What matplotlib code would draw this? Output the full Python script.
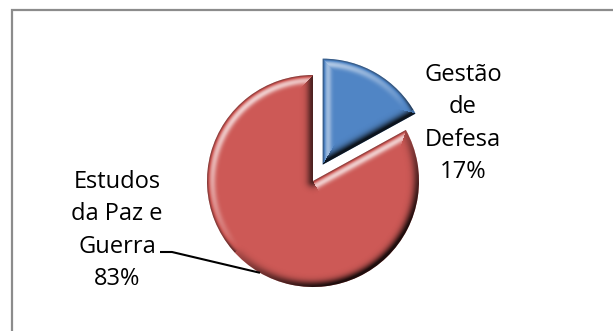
import numpy as np
import matplotlib
matplotlib.use("Agg")
import matplotlib.pyplot as plt

# pie data
categories = ["Gestão\nde\nDefesa", "Estudos\nda Paz e\nGuerra"]
shares = [17, 83]
colors = ["#5085C5", "#CD5956"]

W, H = 613, 331
plt.rcParams['font.family'] = ['Open Sans', 'DejaVu Sans']

fig = plt.figure(figsize=(W / 100, H / 100), dpi=100)
ax = fig.add_axes([0, 0, 1, 1])

center = (313, 150)
radius = 106
# explode is in data units here (1 unit = 1 px)
wedges, _ = ax.pie(shares, colors=colors, startangle=90, counterclock=False,
                   explode=[19, 0], center=center, radius=radius)
ax.set_xlim(0, W)
ax.set_ylim(0, H)
ax.set_aspect('equal')
ax.axis('off')

# pixel grid in data units
xs = np.arange(W) + 0.5
ys = H - (np.arange(H) + 0.5)
X, Y = np.meshgrid(xs, ys)
light = np.array([-0.6, 0.8])


def seg_dist(vx, vy, ux, uy, R):
    proj = np.clip(vx * ux + vy * uy, 0, R)
    return np.hypot(vx - proj * ux, vy - proj * uy)


def bevel(w):
    cx, cy = w.center
    R = w.r
    t1, t2 = np.radians(w.theta1), np.radians(w.theta2)
    vx, vy = X - cx, Y - cy
    rho = np.hypot(vx, vy) + 1e-9
    d_arc = R - rho
    n_arc = (vx / rho, vy / rho)
    u1 = (np.cos(t1), np.sin(t1))
    u2 = (np.cos(t2), np.sin(t2))
    d1 = seg_dist(vx, vy, *u1, R)
    d2 = seg_dist(vx, vy, *u2, R)
    n1 = (np.sin(t1), -np.cos(t1))
    n2 = (-np.sin(t2), np.cos(t2))

    d = np.stack([d_arc, d1, d2])
    k = np.argmin(d, axis=0)
    dist = np.take_along_axis(d, k[None], 0)[0]
    nx = np.choose(k, [n_arc[0], np.full_like(X, n1[0]), np.full_like(X, n2[0])])
    ny = np.choose(k, [n_arc[1], np.full_like(X, n1[1]), np.full_like(X, n2[1])])
    lam = nx * light[0] + ny * light[1]

    hi = np.clip(lam + 0.15, 0, None) * np.exp(-((dist - 5.5) / 3.5) ** 2) * 0.6
    lo = np.clip(-lam + 0.1, 0, None) * np.exp(-(dist / 6.0) ** 2) * 0.9
    rim = np.exp(-(dist / 2.2) ** 2) * 0.4
    shade = hi - lo - rim * (lam > -0.1)

    img = np.zeros((H, W, 4))
    img[..., :3] = (shade > 0)[..., None] * 1.0
    img[..., 3] = np.clip(np.abs(shade), 0, 0.85)
    im = ax.imshow(img, extent=(0, W, 0, H), origin='upper',
                   interpolation='bilinear', zorder=3)
    im.set_clip_path(w)


for w in wedges:
    bevel(w)

# data labels
ax.text(463, H - 178, f"{categories[0]}\n{shares[0]}%", ha='center', va='baseline',
        fontsize=17, linespacing=1.47, color='black', zorder=5)
ax.text(117, H - 285, f"{categories[1]}\n{shares[1]}%", ha='center', va='baseline',
        fontsize=17, linespacing=1.47, color='black', zorder=5)

# leader line for the big slice
ang = np.radians(240)
cx, cy = wedges[1].center
ax.plot([160, 172, cx + radius * np.cos(ang)], [H - 252, H - 252, cy + radius * np.sin(ang)],
        color='black', lw=1.5, zorder=4, solid_capstyle='butt')

# chart area border
ax.plot([12, 12, W + 5], [-5, H - 10, H - 10], color='#8C8C8C', lw=1.6,
        solid_joinstyle='miter', zorder=6)

fig.savefig("out.png", dpi=100)
